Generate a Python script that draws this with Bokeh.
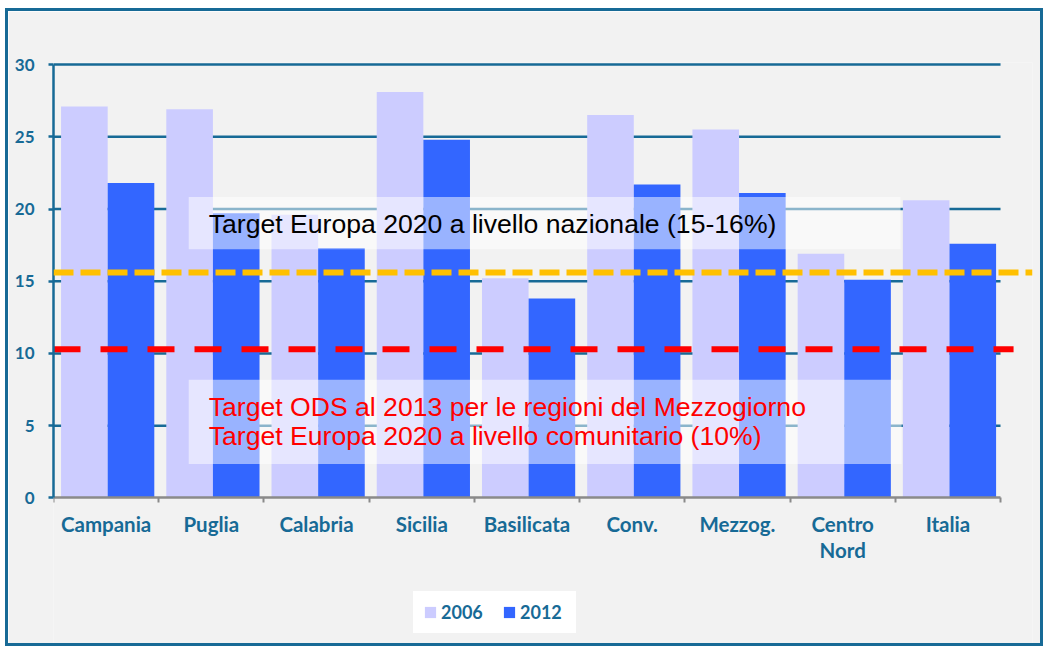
from bokeh.plotting import figure
from bokeh.models import (Range1d, FixedTicker, LinearAxis, Legend, LegendItem,
                          Span, BoxAnnotation, Label)
from bokeh.embed import file_html
from bokeh.resources import INLINE

# ---------------- data ----------------
categories = ["Campania", "Puglia", "Calabria", "Sicilia", "Basilicata",
              "Conv.", "Mezzog.", "Centro\nNord", "Italia"]
values_2006 = [27.1, 26.9, 19.6, 28.1, 15.2, 26.5, 25.5, 16.9, 20.6]
values_2012 = [21.8, 19.7, 17.3, 24.8, 13.8, 21.7, 21.1, 15.1, 17.6]
series_labels = ["2006", "2012"]
y_ticks = [0, 5, 10, 15, 20, 25, 30]
target_nazionale = 15.6
target_comunitario = 10.3
note_nazionale = "Target Europa 2020 a livello nazionale (15-16%)"
note_ods = ["Target  ODS al 2013 per le regioni del Mezzogiorno",
            "Target Europa 2020 a livello comunitario (10%)"]

# ---------------- styling ----------------
TEAL = "#176A96"
GRAY = "#8A8A8A"
C2006 = "#CCCCFF"
C2012 = "#3366FF"
BG = "#F2F2F2"
LABEL_FONT = "Lato"
NOTE_FONT = "Liberation Sans"

n = len(categories)
centers = [i + 0.5 for i in range(n)]
bounds_ticks = list(range(n + 1))
bar_w = 0.443
bar_shift = 0.015
x_end = 9.304

p = figure(width=1038, height=638, output_backend="svg", toolbar_location=None,
           x_range=Range1d(0, x_end), y_range=Range1d(-10.486, 30.139),
           x_axis_type=None, y_axis_type=None,
           min_border_left=45, min_border_right=14, min_border_top=51,
           min_border_bottom=0)
p.styles = {"border": f"3px solid {TEAL}", "margin-left": "5px", "margin-top": "8px"}
p.background_fill_color = BG
p.border_fill_color = BG
p.outline_line_color = None
p.xgrid.visible = False
p.ygrid.visible = False

# gridlines (only across the category axis extent)
grid_y = [t for t in y_ticks if t > 0]
p.segment(x0=[0] * len(grid_y), x1=[n] * len(grid_y), y0=grid_y, y1=grid_y,
          line_color=TEAL, line_width=2.5, level="underlay")

# bars
x2006 = [c + bar_shift - bar_w / 2 for c in centers]
x2012 = [c + bar_shift + bar_w / 2 for c in centers]
r1 = p.vbar(x=x2006, top=values_2006, width=bar_w, fill_color=C2006, line_color=None)
r2 = p.vbar(x=x2012, top=values_2012, width=bar_w, fill_color=C2012, line_color=None)

# red target line
p.segment(x0=[0], x1=[9.124], y0=[target_comunitario], y1=[target_comunitario],
          line_color="#FF0000", line_width=6, line_dash="27 20")
# yellow target line
p.add_layout(Span(location=target_nazionale, dimension="width", line_color="#FFC000",
                  line_width=6, line_dash="20 7"))

# axes
yaxis = LinearAxis(ticker=FixedTicker(ticks=y_ticks, minor_ticks=[]), bounds=(0, 30))
yaxis.axis_line_color = TEAL
yaxis.axis_line_width = 2.5
yaxis.major_tick_line_color = TEAL
yaxis.major_tick_line_width = 2.5
yaxis.major_tick_out = 5
yaxis.major_tick_in = 0
yaxis.minor_tick_line_color = None
yaxis.major_label_standoff = 14
yaxis.major_label_text_font = LABEL_FONT
yaxis.major_label_text_font_style = "bold"
yaxis.major_label_text_font_size = "17px"
yaxis.major_label_text_color = TEAL
p.add_layout(yaxis, "left")

xaxis = LinearAxis(ticker=FixedTicker(ticks=centers, minor_ticks=bounds_ticks),
                   bounds=(0, n), fixed_location=0)
xaxis.major_label_overrides = {c: lab for c, lab in zip(centers, categories)}
xaxis.axis_line_color = GRAY
xaxis.axis_line_width = 2.5
xaxis.major_tick_out = 0
xaxis.major_tick_in = 0
xaxis.major_tick_line_color = None
xaxis.minor_tick_line_color = GRAY
xaxis.minor_tick_line_width = 2
xaxis.minor_tick_out = 5
xaxis.minor_tick_in = 0
xaxis.major_label_standoff = 9
xaxis.major_label_text_font = LABEL_FONT
xaxis.major_label_text_font_style = "bold"
xaxis.major_label_text_font_size = "20.5px"
xaxis.major_label_text_color = TEAL
xaxis.major_label_text_line_height = 1.1
p.add_layout(xaxis, "below")

# note boxes
p.add_layout(BoxAnnotation(left=1.285, right=8.05, bottom=17.22, top=20.83,
                           fill_color="white", fill_alpha=0.5, line_color=None))
p.add_layout(BoxAnnotation(left=1.285, right=8.06, bottom=2.36, top=8.19,
                           fill_color="white", fill_alpha=0.5, line_color=None))
p.add_layout(Label(x=1.475, y=18.99, text=note_nazionale, text_font=NOTE_FONT,
                   text_font_size="26.6px", text_color="black", text_baseline="middle"))
for txt, yy in zip(note_ods, [6.30, 4.31]):
    p.add_layout(Label(x=1.475, y=yy, text=txt, text_font=NOTE_FONT,
                       text_font_size="26.6px", text_color="#FF0000",
                       text_baseline="middle"))

# legend
legend = Legend(items=[LegendItem(label=series_labels[0], renderers=[r1]),
                       LegendItem(label=series_labels[1], renderers=[r2])],
                orientation="horizontal", location=(360, 16))
legend.background_fill_color = "white"
legend.background_fill_alpha = 1
legend.border_line_color = "white"
legend.border_line_alpha = 0
legend.glyph_width = 14
legend.glyph_height = 14
legend.label_standoff = 4
legend.label_width = 46
legend.spacing = 15
legend.padding = 10
legend.margin = 0
legend.label_height = 15
legend.label_text_font = LABEL_FONT
legend.label_text_font_style = "bold"
legend.label_text_font_size = "18px"
legend.label_text_color = TEAL
p.add_layout(legend, "center")

open("out.html", "w").write(file_html(p, INLINE))
